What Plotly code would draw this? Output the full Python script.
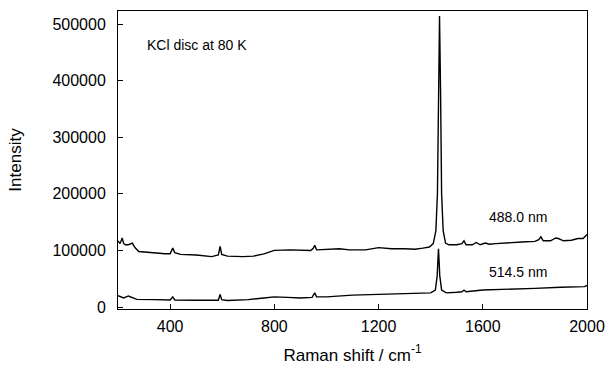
import plotly.graph_objects as go

# Raman shift (cm^-1) and intensities
shift_488 = [200, 208, 216, 222, 229, 240, 255, 265, 280, 320, 380, 400, 410, 418, 440, 500,
             560, 585, 592, 598, 620, 680, 720, 760, 800, 860, 900, 940, 950, 955, 962, 1000,
             1050, 1088, 1150, 1200, 1250, 1300, 1340, 1370, 1395, 1410, 1420, 1426, 1430,
             1434, 1438, 1442, 1448, 1457, 1470, 1500, 1520, 1528, 1536, 1560, 1575, 1590,
             1610, 1625, 1650, 1700, 1750, 1800, 1815, 1823, 1832, 1860, 1880, 1890, 1910,
             1940, 1965, 1985, 2000]
int_488 = [117000, 112000, 122000, 112000, 110000, 110000, 113000, 105000, 98000, 96000,
           94000, 94000, 104000, 96000, 93000, 92000, 89000, 92000, 107000, 93000, 90000,
           89000, 90000, 94000, 100000, 101000, 101000, 100000, 104000, 109000, 101000,
           102000, 103000, 101000, 101000, 105000, 103000, 103000, 102000, 104000, 106000,
           112000, 135000, 200000, 380000, 514000, 380000, 200000, 135000, 113000, 110000,
           110000, 112000, 117000, 110000, 110000, 114000, 110000, 113000, 111000, 112000,
           114000, 115000, 116000, 119000, 124000, 117000, 117000, 122000, 121000, 117000,
           118000, 121000, 121000, 128000]

shift_514 = [200, 212, 222, 240, 255, 272, 340, 400, 410, 418, 500, 585, 592, 598, 620, 700,
             760, 800, 850, 900, 945, 955, 962, 1000, 1100, 1200, 1300, 1400, 1418, 1425,
             1430, 1435, 1442, 1460, 1500, 1520, 1528, 1536, 1600, 1700, 1800, 1900, 1990, 2000]
int_514 = [20000, 18000, 16000, 19500, 16000, 13500, 13000, 12500, 18000, 12500, 12000,
           12000, 22000, 13000, 11500, 13000, 16000, 18000, 17000, 16000, 17000, 25000,
           18000, 18000, 21000, 22000, 23000, 25000, 30000, 55000, 103000, 55000, 30000,
           25000, 26000, 27000, 30000, 27000, 30000, 31000, 33000, 35000, 36000, 38000]

x_ticks = [400, 800, 1200, 1600, 2000]
y_ticks = [0, 100000, 200000, 300000, 400000, 500000]

FONT = "Arial, Liberation Sans, sans-serif"

fig = go.Figure()
fig.add_trace(go.Scatter(x=shift_488, y=int_488, mode="lines",
                         line=dict(color="black", width=1.4), name="488.0 nm"))
fig.add_trace(go.Scatter(x=shift_514, y=int_514, mode="lines",
                         line=dict(color="black", width=1.4), name="514.5 nm"))

fig.add_annotation(x=304, y=463000, text="KCl disc at 80 K", showarrow=False,
                   xanchor="left", yanchor="middle", font=dict(size=14, family=FONT, color="black"))
fig.add_annotation(x=1616, y=159500, text="488.0 nm", showarrow=False,
                   xanchor="left", yanchor="middle", font=dict(size=14, family=FONT, color="black"))
fig.add_annotation(x=1616, y=62400, text="514.5 nm", showarrow=False,
                   xanchor="left", yanchor="middle", font=dict(size=14, family=FONT, color="black"))

fig.update_layout(
    width=605, height=375,
    margin=dict(l=118, r=18, t=11, b=66),
    paper_bgcolor="white", plot_bgcolor="white",
    showlegend=False,
    font=dict(family=FONT, color="black", size=16),
)
fig.update_xaxes(
    range=[200, 2000], tickvals=x_ticks, ticks="inside", ticklen=5, tickcolor="black",
    showline=True, linecolor="black", linewidth=1, mirror=True, showgrid=False, zeroline=False,
    automargin=False, ticklabelstandoff=3,
    tickfont=dict(size=16, family=FONT),
    title=dict(text="Raman shift / cm<sup>-1</sup>", font=dict(size=17, family=FONT), standoff=14),
)
fig.update_yaxes(
    range=[-3500, 523000], tickvals=y_ticks, tickformat="d", ticks="inside", ticklen=5,
    tickcolor="black", showline=True, linecolor="black", linewidth=1, mirror=True,
    showgrid=False, zeroline=False, automargin=False, ticklabelstandoff=8,
    tickfont=dict(size=16, family=FONT),
    title=dict(text="Intensity", font=dict(size=17, family=FONT), standoff=26),
)

fig.write_html(
    "out.html",
    config={"displayModeBar": False},
    post_script="document.body.style.margin='0';document.body.style.overflow='hidden';",
)
